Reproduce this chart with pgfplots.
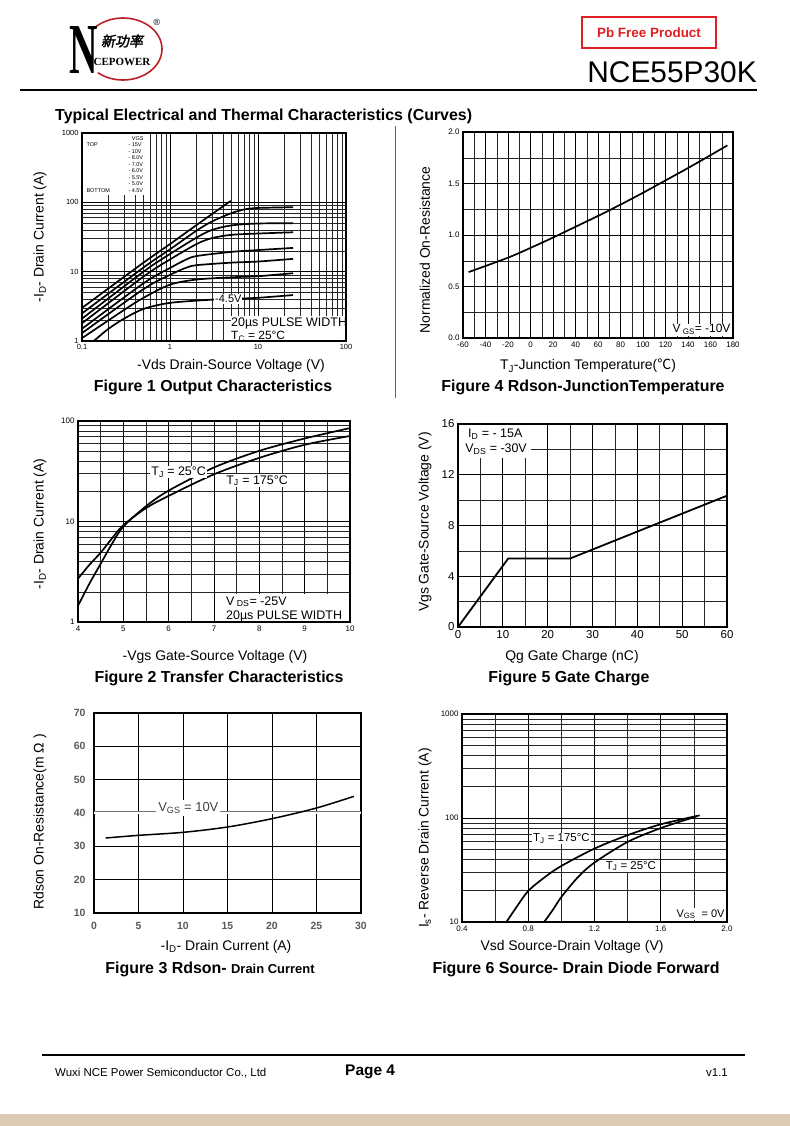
\documentclass[border=0pt]{standalone}
\usepackage{pgfplots}
\pgfplotsset{compat=1.18}
\usepackage{fontspec}
\setmainfont{Liberation Sans}
\newfontfamily\cjk{Noto Sans CJK SC}
\newfontfamily\cjkb[FakeBold=2,FakeSlant=0.2]{Noto Sans CJK SC}
\newfontfamily\serifb{Liberation Serif}
\definecolor{logored}{RGB}{190,30,40}
\definecolor{pbred}{RGB}{225,30,35}
\definecolor{tan}{RGB}{218,203,178}

\newcommand{\fs}[1]{\fontsize{#1}{#1}\selectfont}

\pgfplotsset{
  ds/.style={
    scale only axis, anchor=north west,
    axis line style={line width=1.4bp},
    major tick length=0pt, minor tick length=0pt,
    grid=both,
    major grid style={black, line width=0.9bp},
    minor grid style={black!85, line width=0.45bp},
    /pgf/number format/assume math mode=true,
    /pgf/number format/1000 sep={},
    tick label style={font=\fs{8}},
  },
  crv/.style={black, line width=1.7bp, no marks},
}

\begin{document}
\begin{tikzpicture}
\fill[white] (0,0) rectangle (790bp,-1126bp);
\useasboundingbox (0,0) rectangle (790bp,-1126bp);
\fill[tan] (0,-1114bp) rectangle (790bp,-1126bp);

% ---------- header ----------
\draw[logored, line width=1.6bp] (123bp,-49bp) ellipse [x radius=39bp, y radius=31bp];
\node[fill=white, inner sep=0pt] at (84bp,-50bp) {\scalebox{0.55}[1]{\serifb\bfseries\fs{72}N}};
\node at (122bp,-41bp) {\cjkb\fs{14}新功率};
\node at (122bp,-62bp) {\serifb\bfseries\fs{11}CEPOWER};
\node at (157bp,-22bp) {\fs{9}®};
\draw[pbred, line width=1.3bp] (582bp,-17bp) rectangle (716bp,-48bp);
\node[pbred] at (649bp,-32.5bp) {\bfseries\fs{13.5}Pb Free Product};
\node[anchor=base east, inner sep=0pt] at (757bp,-82bp) {\fs{30}NCE55P30K};
\draw[line width=2bp] (20bp,-90bp) -- (757bp,-90bp);
\node[anchor=west, inner sep=0pt] at (55bp,-116bp) {\bfseries\fs{16}Typical Electrical and Thermal Characteristics (Curves)};
\draw[black!60, line width=1bp] (395bp,-126bp) -- (395bp,-398bp);

% ---------- Figure 1 ----------
\begin{axis}[ds, at={(82bp,-133bp)}, width=264bp, height=208bp,
  xmode=log, ymode=log, xmin=0.1, xmax=100, ymin=1, ymax=1000,
  log ticks with fixed point,
  xtick={0.1,1,10,100}, ytick={1,10,100,1000},
  ymajorgrids=false, yminorgrids=false,
  tick label style={font=\fs{7.5}}]
\pgfplotsinvokeforeach{2,3,4,5,6,7,8,9,20,30,40,50,60,70,80,90}{
  \draw[black!85, line width=0.45bp] (axis cs:0.1,#1) -- (axis cs:100,#1);}
\draw[black, line width=0.9bp] (axis cs:0.1,10) -- (axis cs:100,10);
\draw[black, line width=0.9bp] (axis cs:0.1,100) -- (axis cs:100,100);
\fill[white] (rel axis cs:0.004,0.70) rectangle (rel axis cs:0.246,0.996);
% -15V
\addplot[crv, smooth] coordinates {(0.1,3.0) (0.5,13.5) (1,25) (2,47) (4.9,105)};
% -10V
\addplot[crv, smooth] coordinates {(0.1,2.5) (0.5,11.5) (1,21) (2,39) (3,53) (5,70) (7,79) (10,83) (25,85)};
% -8V
\addplot[crv, smooth] coordinates {(0.1,2.1) (0.5,10) (1,18) (2,31) (3,40) (5,46.5) (10,49.5) (25,50)};
% -7V
\addplot[crv, smooth] coordinates {(0.1,1.8) (0.5,8.5) (1,15) (2,25) (3,30.5) (5,34) (10,35.5) (25,37)};
% -6V
\addplot[crv, smooth] coordinates {(0.1,1.5) (0.5,6.8) (1,11.3) (1.5,14.8) (2,16.8) (5,19.3) (10,20.5) (25,22)};
% -5.5V
\addplot[crv, smooth] coordinates {(0.1,1.3) (0.5,5.6) (1,9) (1.5,11.3) (2,12.4) (5,13.5) (10,14) (25,15.3)};
% -5V
\addplot[crv, smooth] coordinates {(0.1,1.1) (0.3,2.8) (0.5,4.2) (1,6.5) (2,7.7) (5,8.3) (10,8.6) (25,9.5)};
% -4.5V
\addplot[crv, smooth] coordinates {(0.136,1) (0.2,1.5) (0.3,2.1) (0.5,2.9) (1,3.55) (3,3.95) (5,4.05) (10,4.2) (25,4.6)};
\node[fill=white, inner sep=1pt] at (axis cs:4.6,4.0) {\fs{11}-4.5V};
\fill[white] (rel axis cs:0.565,0.004) rectangle (rel axis cs:0.996,0.12);
\end{axis}
\begin{scope}[font=\fs{5.5}]
\node[anchor=east] at (147bp,-139bp) {VGS};
\node[anchor=west] at (83bp,-145bp) {TOP};
\node[anchor=west] at (83bp,-191bp) {BOTTOM};
\node[anchor=west] at (125bp,-145bp) {- 15V};
\node[anchor=west] at (125bp,-151.5bp) {- 10V};
\node[anchor=west] at (125bp,-158bp) {- 8.0V};
\node[anchor=west] at (125bp,-164.5bp) {- 7.0V};
\node[anchor=west] at (125bp,-171bp) {- 6.0V};
\node[anchor=west] at (125bp,-177.5bp) {- 5.5V};
\node[anchor=west] at (125bp,-184bp) {- 5.0V};
\node[anchor=west] at (125bp,-191bp) {- 4.5V};
\end{scope}
\begin{scope}
\clip (82bp,-133bp) rectangle (346bp,-341bp);
\node[anchor=west, inner sep=0pt] at (231bp,-323bp) {\fs{12.5}20µs PULSE WIDTH};
\node[anchor=west, inner sep=0pt] at (231bp,-336bp) {\fs{12}T\textsubscript{C} = 25°C};
\end{scope}
\node[rotate=90] at (40bp,-237bp) {\fs{14}-I\textsubscript{D}- Drain Current (A)};
\node at (231bp,-366bp) {\fs{14}-Vds Drain-Source Voltage (V)};
\node at (213bp,-387bp) {\bfseries\fs{16}Figure 1 Output Characteristics};

% ---------- Figure 4 ----------
\begin{axis}[ds, at={(463bp,-132bp)}, width=270bp, height=206bp,
  xmin=-60, xmax=180, ymin=0, ymax=2,
  xtick={-60,-40,...,180}, minor x tick num=1,
  ytick={0,0.5,...,2}, minor y tick num=1,
  yticklabel style={/pgf/number format/.cd, fixed, fixed zerofill, precision=1},
  tick label style={font=\fs{8}}]
\addplot[crv, smooth] coordinates {(-55,0.64) (-20,0.78) (0,0.875) (20,0.975) (40,1.08) (60,1.185) (80,1.295) (100,1.41) (120,1.53) (140,1.65) (160,1.775) (175,1.87)};
\node[fill=white, anchor=south east, inner sep=1pt] at (rel axis cs:0.995,0.01) {\fs{12}V\textsubscript{ GS}= -10V};
\end{axis}
\node[rotate=90] at (425bp,-250bp) {\fs{14}Normalized On-Resistance};
\node at (588bp,-366bp) {\fs{14}T\textsubscript{J}-Junction Temperature({\cjk ℃})};
\node at (583bp,-387bp) {\bfseries\fs{16}Figure 4 Rdson-JunctionTemperature};

% ---------- Figure 2 ----------
\begin{axis}[ds, at={(78bp,-421bp)}, width=272bp, height=201bp,
  xmin=4, xmax=10, ymode=log, ymin=1, ymax=100,
  xtick={4,...,10}, minor x tick num=1,
  ytick={1,10,100}, log ticks with fixed point]
\addplot[crv, smooth] coordinates {(4,1.45) (4.25,2.4) (4.5,3.8) (4.75,6.0) (5,8.9) (5.5,14.2) (6,20.3) (7,34.5) (8,50.5) (9,67) (10,85)};
\addplot[crv, smooth] coordinates {(4,2.7) (4.25,3.7) (4.5,4.9) (4.75,6.8) (5,9.2) (5.5,13.6) (6,18) (7,29.5) (8,43) (9,58) (10,71)};
\node[fill=white, inner sep=1pt] at (axis cs:6.22,31) {\fs{12.5}T\textsubscript{J} = 25°C};
\node[fill=white, inner sep=1pt] at (axis cs:7.95,25.5) {\fs{12.5}T\textsubscript{J} = 175°C};
\fill[white] (rel axis cs:0.55,0.004) rectangle (rel axis cs:0.996,0.14);
\end{axis}
\begin{scope}
\clip (78bp,-421bp) rectangle (350bp,-622bp);
\node[anchor=base west, inner sep=0pt] at (226bp,-605bp) {\fs{12.5}V\textsubscript{ DS}= -25V};
\node[anchor=base west, inner sep=0pt] at (226bp,-619bp) {\fs{12.5}20µs PULSE WIDTH};
\end{scope}
\node[rotate=90] at (40bp,-524bp) {\fs{14}-I\textsubscript{D}- Drain Current (A)};
\node at (215bp,-657bp) {\fs{14}-Vgs Gate-Source Voltage (V)};
\node at (219bp,-678bp) {\bfseries\fs{16}Figure 2 Transfer Characteristics};

% ---------- Figure 5 ----------
\begin{axis}[ds, at={(458bp,-424bp)}, width=269bp, height=203bp,
  xmin=0, xmax=60, ymin=0, ymax=16,
  xtick={0,10,...,60}, minor x tick num=1,
  ytick={0,4,...,16}, minor y tick num=1,
  major grid style={black, line width=1.1bp},
  minor grid style={black!85, line width=0.55bp},
  tick label style={font=\fs{11.5}}]
\fill[white] (axis cs:0.2,13.3) rectangle (axis cs:16.3,15.9);
\addplot[black, line width=1.8bp, no marks] coordinates {(0,0) (11.2,5.4) (25,5.4) (60,10.35)};
\node[inner sep=0pt] at (axis cs:8.3,15.2) {\fs{12.5}I\textsubscript{D} = - 15A};
\node[inner sep=0pt] at (axis cs:8.5,14.0) {\fs{12.5}V\textsubscript{DS} = -30V};
\end{axis}
\node[rotate=90] at (425bp,-522bp) {\fs{14}Vgs Gate-Source Voltage (V)};
\node at (572bp,-657bp) {\fs{14}Qg Gate Charge (nC)};
\node at (569bp,-678bp) {\bfseries\fs{16}Figure 5 Gate Charge};

% ---------- Figure 3 ----------
\begin{axis}[ds, at={(94bp,-713bp)}, width=267bp, height=200bp,
  xmin=0, xmax=30, ymin=10, ymax=70,
  xtick={0,5,...,30}, ytick={10,20,...,70},
  grid=major, axis line style={line width=2.6bp},
  major grid style={black, line width=0.9bp},
  tick label style={font=\bfseries\fs{10.5}, black!65},
  xticklabel style={yshift=-6bp}, yticklabel style={xshift=-5bp}]
\draw[white, line width=1.6bp] (axis cs:0,40) -- (axis cs:30,40);
\draw[black!55, line width=0.8bp] (axis cs:0,40.5) -- (axis cs:30,40.5);
\addplot[crv, smooth, line width=1.5bp] coordinates {(1.3,32.5) (5,33.3) (10,34.2) (15,35.8) (20,38.3) (25,41.5) (29.2,45)};
\node[fill=white, inner sep=2pt] at (axis cs:10.6,41.5) {\fs{13}\color{black!75}V\textsubscript{GS} = 10V};
\end{axis}
\node[rotate=90] at (40bp,-822bp) {\fs{14}Rdson On-Resistance(m Ω )};
\node at (226bp,-947bp) {\fs{14}-I\textsubscript{D}- Drain Current (A)};
\node at (210bp,-969bp) {\bfseries\fs{16}Figure 3 Rdson- {\fs{13}Drain Current}};

% ---------- Figure 6 ----------
\begin{axis}[ds, at={(462bp,-714bp)}, width=265bp, height=208bp,
  xmin=0.4, xmax=2.0, ymode=log, ymin=10, ymax=1000,
  xtick={0.4,0.8,...,2.0}, minor x tick num=1,
  xticklabel style={/pgf/number format/.cd, fixed, fixed zerofill, precision=1},
  ytick={10,100,1000}, log ticks with fixed point]
\addplot[crv, smooth] coordinates {(0.668,10) (0.73,14) (0.8,19.9) (0.9,27) (1.0,34.6) (1.2,50.8) (1.4,68.4) (1.6,87) (1.835,106)};
\addplot[crv, smooth] coordinates {(0.896,10) (0.95,13.2) (1.0,17.4) (1.1,27) (1.2,37.3) (1.4,58.9) (1.6,80) (1.82,104)};
\node[fill=white, inner sep=1pt] at (axis cs:1.0,63.5) {\fs{11.5}T\textsubscript{J} = 175°C};
\node[fill=white, inner sep=1pt] at (axis cs:1.42,34.6) {\fs{11.5}T\textsubscript{J} = 25°C};
\node[fill=white, anchor=south east, inner sep=1pt] at (rel axis cs:0.995,0.01) {\fs{11}V\textsubscript{GS} \ = 0V};
\end{axis}
\node[rotate=90] at (425bp,-838bp) {\fs{14}I\textsubscript{s}- Reverse Drain Current (A)};
\node at (572bp,-947bp) {\fs{14}Vsd Source-Drain Voltage (V)};
\node at (576bp,-969bp) {\bfseries\fs{16}Figure 6 Source- Drain Diode Forward};

% ---------- footer ----------
\draw[line width=2bp] (42bp,-1055bp) -- (745bp,-1055bp);
\node[anchor=west, inner sep=0pt] at (55bp,-1073bp) {\fs{11.5}Wuxi NCE Power Semiconductor Co., Ltd};
\node[anchor=west, inner sep=0pt] at (345bp,-1072bp) {\bfseries\fs{15.5}Page 4};
\node[anchor=east, inner sep=0pt] at (728bp,-1073bp) {\fs{11.5}v1.1};
\end{tikzpicture}
\end{document}
